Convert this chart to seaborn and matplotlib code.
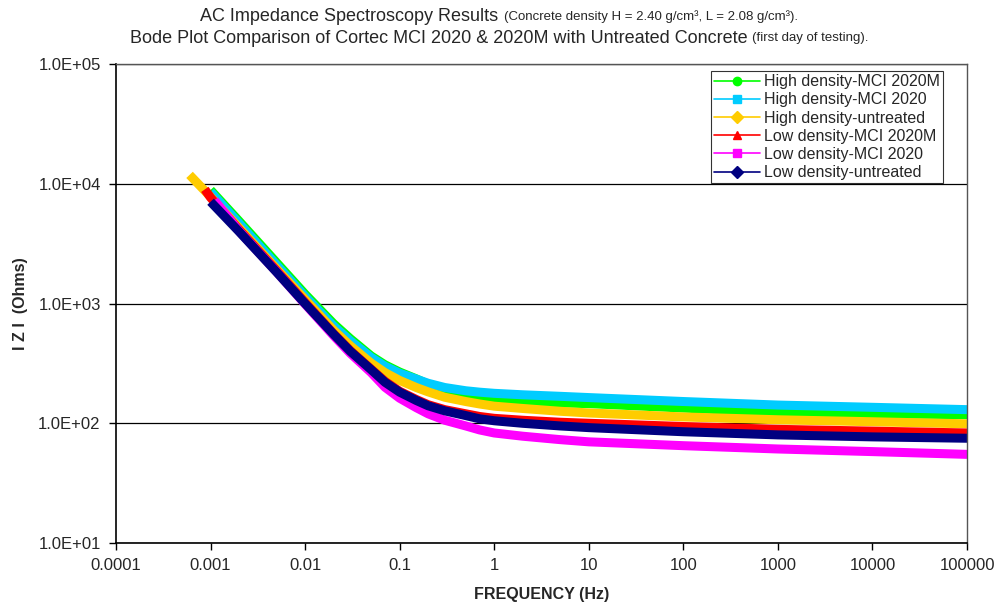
import numpy as np
import pandas as pd
import matplotlib
matplotlib.use("Agg")
import matplotlib.pyplot as plt
from matplotlib.lines import Line2D
from matplotlib.ticker import FixedLocator, FixedFormatter, NullLocator
import seaborn as sns

# series names and colours (legend order)
series = ["High density-MCI 2020M", "High density-MCI 2020", "High density-untreated",
          "Low density-MCI 2020M", "Low density-MCI 2020", "Low density-untreated"]
colors = ["#00FF00", "#00CCFF", "#FFCC00", "#FF0000", "#FF00FF", "#000080"]
markers = ["o", "s", "D", "^", "s", "D"]

# frequency (Hz) and |Z| (Ohms)
freq_common = [0.001, 0.002, 0.005, 0.01, 0.02, 0.03, 0.05, 0.07, 0.1, 0.15, 0.2, 0.3, 0.5, 0.7,
               1, 2, 5, 10, 100, 1000, 10000, 100000]

freq_hi_2020m = freq_common
z_hi_2020m = [8900, 4900, 2200, 1200, 680, 510, 365, 308, 268, 235, 212, 188, 169, 161,
              156, 152, 148, 146, 134, 123, 120, 118]

freq_hi_2020 = freq_common
z_hi_2020 = [8600, 4700, 2100, 1150, 650, 490, 355, 300, 262, 234, 216, 199, 187, 182,
             178, 173, 168, 164, 152, 142, 136, 130]

freq_hi_untr = [0.0006] + freq_common
z_hi_untr = [11900, 7800, 4300, 1950, 1080, 600, 445, 318, 265, 228, 199, 183, 165, 152, 145,
             139, 133, 126, 122, 113, 107, 103, 99]

freq_lo_2020m = [0.00087] + freq_common
z_lo_2020m = [9000, 7700, 4150, 1880, 1020, 560, 405, 283, 224, 185, 158, 143, 130, 120, 114,
              110, 106, 102, 100, 94, 89, 86, 83]

freq_lo_2020 = [0.0011] + freq_common[1:]
z_lo_2020 = [7300, 4050, 1840, 990, 540, 385, 265, 200, 162, 135, 120, 106, 95, 88,
             83, 78, 73, 70, 65, 61, 58, 55]

freq_lo_untr = freq_common
z_lo_untr = [7100, 4000, 1830, 1000, 555, 400, 280, 220, 182, 155, 140, 127, 116, 109,
             105, 100, 95, 92, 85, 80, 77, 75]

freqs = [freq_hi_2020m, freq_hi_2020, freq_hi_untr, freq_lo_2020m, freq_lo_2020, freq_lo_untr]
zs = [z_hi_2020m, z_hi_2020, z_hi_untr, z_lo_2020m, z_lo_2020, z_lo_untr]

frames = []
for name, f, z in zip(series, freqs, zs):
    frames.append(pd.DataFrame({"freq": f, "z": z, "series": name}))
df = pd.concat(frames, ignore_index=True)

sns.set_style("white")
plt.rcParams["font.family"] = ["Liberation Sans", "DejaVu Sans"]

fig = plt.figure(figsize=(9.98, 6.06), dpi=100)
ax = fig.add_axes([0.1162, 0.104, 0.8528, 0.790])

# thick bands (the dense markers in the original form solid bands)
for name, c in zip(series, colors):
    sub = df[df["series"] == name]
    sns.lineplot(data=sub, x="freq", y="z", color=c, linewidth=6.5, ax=ax,
                 legend=False, sort=False, estimator=None, solid_capstyle="butt")

ax.set_xscale("log")
ax.set_yscale("log")
ax.set_xlim(0.0001, 100000)
ax.set_ylim(10, 100000)

xt = [0.0001, 0.001, 0.01, 0.1, 1, 10, 100, 1000, 10000, 100000]
xl = ["0.0001", "0.001", "0.01", "0.1", "1", "10", "100", "1000", "10000", "100000"]
yt = [10, 100, 1000, 10000, 100000]
yl = ["1.0E+01", "1.0E+02", "1.0E+03", "1.0E+04", "1.0E+05"]
ax.xaxis.set_major_locator(FixedLocator(xt))
ax.xaxis.set_major_formatter(FixedFormatter(xl))
ax.yaxis.set_major_locator(FixedLocator(yt))
ax.yaxis.set_major_formatter(FixedFormatter(yl))
ax.xaxis.set_minor_locator(NullLocator())
ax.yaxis.set_minor_locator(NullLocator())
ax.tick_params(axis="both", which="major", direction="out", length=5, width=1,
               labelsize=12, color="black", bottom=True, left=True, pad=6)

ax.yaxis.grid(True, color="black", linewidth=0.9)
ax.xaxis.grid(False)
ax.set_axisbelow(True)
for s in ["left", "bottom"]:
    ax.spines[s].set_color("black")
    ax.spines[s].set_linewidth(1.2)
for s in ["top", "right"]:
    ax.spines[s].set_color("#555555")
    ax.spines[s].set_linewidth(1.0)

ax.set_xlabel("FREQUENCY (Hz)", fontsize=11.5, fontweight="bold", labelpad=10)
ax.set_ylabel("I Z I  (Ohms)", fontsize=11.5, fontweight="bold", labelpad=7)

handles = [Line2D([0], [0], color=c, marker=m, markersize=6, linewidth=1.2)
           for c, m in zip(colors, markers)]
leg = ax.legend(handles, series, loc="upper right", bbox_to_anchor=(0.972, 0.986),
                fontsize=11.5, frameon=True, fancybox=False, shadow=False,
                borderpad=0.2, labelspacing=0.2, handlelength=2.9, handletextpad=0.25,
                borderaxespad=0.0)
leg.get_frame().set_edgecolor("black")
leg.get_frame().set_linewidth(0.8)

# two-size title lines, each centred on the figure
title_lines = [("AC Impedance Spectroscopy Results ",
                "(Concrete density H = 2.40 g/cm\u00b3, L = 2.08 g/cm\u00b3).", 0.972),
               ("Bode Plot Comparison of Cortec MCI 2020 & 2020M with Untreated Concrete ",
                "(first day of testing).", 0.937)]
fig.canvas.draw()
rend = fig.canvas.get_renderer()
for big, small, yy in title_lines:
    t1 = fig.text(0, yy, big, ha="left", va="center", fontsize=13)
    t2 = fig.text(0, yy, small, ha="left", va="center", fontsize=9.5)
    w1 = t1.get_window_extent(rend).width / fig.bbox.width
    w2 = t2.get_window_extent(rend).width / fig.bbox.width
    x0 = 0.5 - (w1 + w2) / 2
    t1.set_x(x0)
    t2.set_x(x0 + w1)

fig.savefig("out.png", dpi=100)
